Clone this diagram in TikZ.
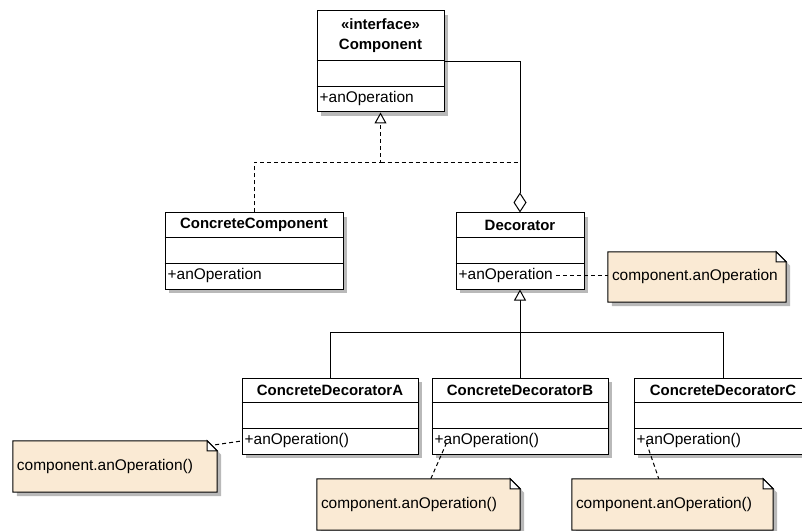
\documentclass[tikz,border=0pt]{standalone}
\usepackage{fontspec}
\setmainfont{Liberation Sans}
\usetikzlibrary{arrows.meta,calc,shadows}

\definecolor{notefill}{RGB}{250,234,212}
\definecolor{shadowgray}{RGB}{185,185,185}

\tikzset{
  thin line/.style={line width=1bp, draw=black},
  classbox/.style={thin line, fill=white, inner sep=0pt,
    drop shadow={shadow xshift=4bp, shadow yshift=-4bp, fill=shadowgray, opacity=1}},
  classname/.style={font=\fontsize{15}{20}\selectfont\bfseries, inner sep=0pt, align=center},
  optext/.style={font=\fontsize{15.5}{18}\selectfont, inner sep=0pt, anchor=west},
  dashline/.style={thin line, dash pattern=on 4bp off 3bp},
  realize/.style={-{Triangle[open, length=11bp, width=12bp, fill=white]}},
  aggregate/.style={{Diamond[open, length=20bp, width=13bp, fill=white]}-},
  notebody/.style={thin line, fill=notefill},
}

% UML class: name, left, top, right, title height, title, operation
\newcommand\umlclass[7]{%
  \pgfmathsetmacro\uclw{#4-#2}%
  \pgfmathsetmacro\uclh{#5+51}%
  \node[classbox, minimum width=\uclw bp, minimum height=\uclh bp]
    (#1) at ({(#2+#4)/2},{#3+\uclh/2}) {};
  \draw[thin line] ($(#1.north west)+(0,#5)$) -- ($(#1.north east)+(0,#5)$);
  \draw[thin line] ($(#1.north west)+(0,#5+26)$) -- ($(#1.north east)+(0,#5+26)$);
  \node[classname] (#1-title) at ($(#1.north)+(0,#5/2)$) {#6};
  \node[optext] (#1-op) at ($(#1.north west)+(3,#5+38.5)$) {#7};
}

% UML note with folded corner: name, left, top, right, bottom, text
\newcommand\umlnote[6]{%
  \pgfmathsetmacro\unw{#4-#2}%
  \pgfmathsetmacro\unh{#5-#3}%
  \node[inner sep=0pt, minimum width=\unw bp, minimum height=\unh bp]
    (#1) at ({(#2+#4)/2},{(#3+#5)/2}) {};
  \fill[shadowgray] ($(#1.north west)+(4,4)$) -- ($(#1.north east)+(-6,4)$)
    -- ($(#1.north east)+(4,14)$) -- ($(#1.south east)+(4,4)$)
    -- ($(#1.south west)+(4,4)$) -- cycle;
  \path[notebody] (#1.north west) -- ($(#1.north east)+(-10,0)$)
    -- ($(#1.north east)+(0,10)$) -- (#1.south east) -- (#1.south west) -- cycle;
  \path[thin line, fill=white] ($(#1.north east)+(-10,0)$) -- ($(#1.north east)+(-10,10)$)
    -- ($(#1.north east)+(0,10)$) -- cycle;
  \node[optext] (#1-text) at ($(#1.west)+(4,0)$) {#6};
}

\begin{document}
\begin{tikzpicture}[x=1bp, y=-1bp]
  \useasboundingbox (0,0) rectangle (802,531);

  % classes
  \umlclass{comp}{317}{11}{444}{50}{«interface»\\Component}{+anOperation}
  \umlclass{cc}{165}{213}{343}{25}{ConcreteComponent}{+anOperation}
  \umlclass{dec}{456}{213}{584}{25}{Decorator}{+anOperation}
  \umlclass{cda}{242}{378}{418}{25}{ConcreteDecoratorA}{+anOperation()}
  \umlclass{cdb}{432}{378}{608}{25}{ConcreteDecoratorB}{+anOperation()}
  \umlclass{cdc}{634}{378}{812}{25}{ConcreteDecoratorC}{+anOperation()}

  % notes
  \umlnote{noted}{608}{252}{786}{302}{component.anOperation}
  \umlnote{notea}{13}{441}{217}{492}{component.anOperation()}
  \umlnote{noteb}{317}{479}{520}{530}{component.anOperation()}
  \umlnote{notec}{572}{479}{773}{530}{component.anOperation()}

  % realization of the interface
  \coordinate (join) at ($(comp.south)+(0,50)$);
  \coordinate (decjoin) at (dec.north |- join);
  \draw[dashline] (join) -- (decjoin);
  \draw[dashline, realize] (cc.north) |- (join) -- (comp.south);

  % decorator holds a component
  \draw[thin line, aggregate] (dec.north) |- (comp.east);

  % concrete decorators extend the decorator
  \coordinate (bus) at ($(dec.south)+(0,43)$);
  \draw[thin line] (cda.north) |- (bus);
  \draw[thin line] (cdc.north) |- (bus);
  \draw[thin line, realize] (cdb.north) -- (dec.south);

  % note links
  \draw[dashline] ($(dec-op.east)+(3,0)$) -- (noted.west |- dec-op.east);
  \draw[dashline] ($(notea.north east)+(-2,4)$) -- (cda.west |- cda-op.west);
  \coordinate (nbtop) at ($(noteb.north west)+(114,0)$);
  \draw[dashline] ($(cdb-op.west)+(12,2)$) -- (nbtop);
  \coordinate (nctop) at ($(notec.north west)+(87,0)$);
  \draw[dashline] ($(cdc-op.west)+(10,2)$) -- (nctop);
\end{tikzpicture}
\end{document}
